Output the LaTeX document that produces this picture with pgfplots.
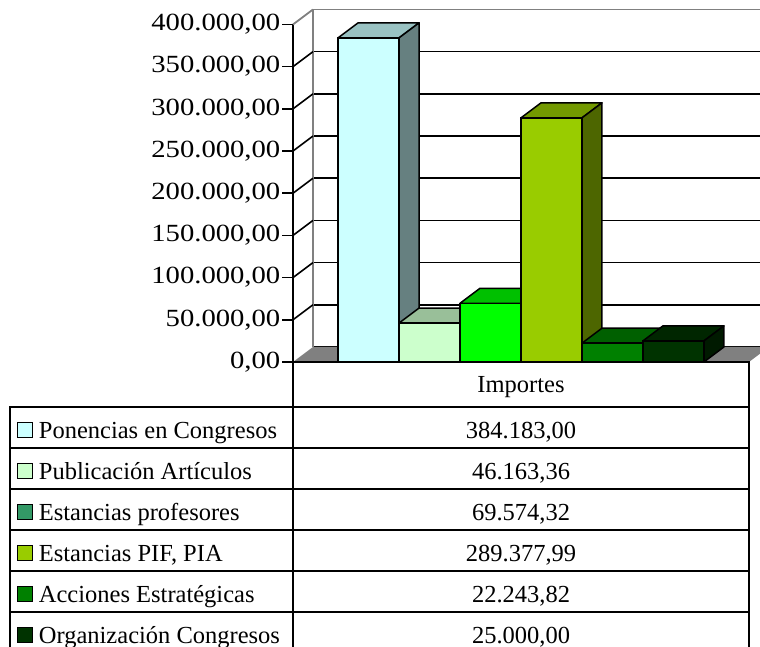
\documentclass[border=0pt]{standalone}
\usepackage{fontspec}
\setmainfont{Liberation Serif}
\usepackage{graphicx}
\usepackage{pgfplots}
\usepackage{pgfplotstable}
\pgfplotsset{compat=1.18}

\definecolor{ponfront}{HTML}{CCFFFF}\definecolor{pontop}{HTML}{99C2C2}\definecolor{ponside}{HTML}{668080}
\definecolor{pubfront}{HTML}{CCFFCC}\definecolor{pubtop}{HTML}{99BF99}\definecolor{pubside}{HTML}{668066}
\definecolor{estfront}{HTML}{00FF00}\definecolor{esttop}{HTML}{00C000}\definecolor{estside}{HTML}{008000}
\definecolor{estkey}{HTML}{339966}
\definecolor{piffront}{HTML}{99CC00}\definecolor{piftop}{HTML}{739900}\definecolor{pifside}{HTML}{4D6600}
\definecolor{accfront}{HTML}{008000}\definecolor{acctop}{HTML}{006000}\definecolor{accside}{HTML}{004000}
\definecolor{orgfront}{HTML}{003300}\definecolor{orgtop}{HTML}{002600}\definecolor{orgside}{HTML}{001A00}
\definecolor{floorgray}{HTML}{808080}

% importes por concepto
\pgfplotstableread{
idx value
0 384183.00
1 46163.36
2 69574.32
3 289377.99
4 22243.82
5 25000.00
}\importes

\newcommand\tablefont{\fontsize{24.5}{29}\selectfont}
\newcommand\tickfont{\fontsize{24.7}{29}\selectfont}

% one 3d bar: row, front, top, side colour
\newcommand\cubebar[4]{%
  \addplot[only marks, scatter, mark=*, mark size=0pt, mark options={draw=none,fill=none},
    point meta=y,
    scatter/@pre marker code/.code={%
      \pgfkeys{/pgf/fpu=true,/pgf/fpu/output format=fixed}%
      \pgfmathsetmacro\negheight{-\pgfplotspointmeta}%
      \pgfkeys{/pgf/fpu=false}%
      \filldraw[fill=#3, draw=black, line width=1.5pt, line join=round]
        (-30.5pt,0pt) -- (30.5pt,0pt) -- (50.5pt,15pt) -- (-10.5pt,15pt) -- cycle;
      \filldraw[fill=#4, draw=black, line width=1.5pt, line join=round]
        (30.5pt,0pt) -- (50.5pt,15pt)
        -- ([xshift=50.5pt,yshift=15pt]axis direction cs:0,\negheight)
        -- ([xshift=30.5pt]axis direction cs:0,\negheight) -- cycle;
    },
    scatter/@post marker code/.code={},
    skip coords between index={0}{#1},
    skip coords between index={\the\numexpr#1+1\relax}{6}]
    table[x=idx, y=value] {\importes};
  \addplot[ybar, bar width=61pt, bar shift=0pt, fill=#2, draw=black, line width=1.5pt,
    skip coords between index={0}{#1},
    skip coords between index={\the\numexpr#1+1\relax}{6}]
    table[x=idx, y=value] {\importes};
}

\begin{document}
\begin{tikzpicture}
\useasboundingbox (0pt,0pt) rectangle (760pt,647pt);
\clip (0pt,0pt) rectangle (760pt,647pt);
\begin{axis}[
    at={(293pt,285pt)}, anchor=south west,
    scale only axis, width=456pt, height=337.5pt,
    xmin=-1.24, xmax=6.24, ymin=0, ymax=400000,
    clip=false, clip marker paths=true,
    axis x line=none, axis y line*=left,
    y axis line style={black, line width=1.6pt},
    xtick=\empty,
    ytick={0,50000,100000,150000,200000,250000,300000,350000,400000},
    scaled y ticks=false,
    tick align=outside, major tick length=11pt,
    ytick style={black, line width=1.6pt},
    yticklabel style={font=\tickfont, inner sep=1.5pt,
      /pgf/number format/.cd, fixed, fixed zerofill, precision=2,
      use comma, 1000 sep={.}, assume math mode=true},
    yticklabel={\scalebox{1.16}[1]{\pgfmathprintnumber{\tick}}},
    ymajorgrids,
    grid style={black, line width=1.6pt, xshift=20pt, yshift=15pt},
  ]
  % floor and walls
  \fill[floorgray] (rel axis cs:0,0) -- (rel axis cs:1,0)
    -- ([xshift=20pt,yshift=15pt]rel axis cs:1,0)
    -- ([xshift=20pt,yshift=15pt]rel axis cs:0,0) -- cycle;
  \draw[floorgray, line width=1.8pt] ([xshift=20pt,yshift=15pt]rel axis cs:0,0)
    -- ([xshift=20pt,yshift=15pt]rel axis cs:0,1)
    -- ([xshift=20pt,yshift=15pt]rel axis cs:1,1);
  \draw[floorgray, line width=1.8pt] (rel axis cs:0,1) -- ++(20pt,15pt);
  \pgfplotsinvokeforeach{50000,100000,150000,200000,250000,300000,350000}{
    \draw[black, line width=1.6pt] (axis cs:-1.24,#1) -- ++(20pt,15pt);
  }

  \cubebar{0}{ponfront}{pontop}{ponside}
  \cubebar{1}{pubfront}{pubtop}{pubside}
  \cubebar{2}{estfront}{esttop}{estside}
  \cubebar{3}{piffront}{piftop}{pifside}
  \cubebar{4}{accfront}{acctop}{accside}
  \cubebar{5}{orgfront}{orgtop}{orgside}
\end{axis}

% data table
\begin{scope}[line width=1.8pt]
  \draw (293pt,285pt) rectangle (749pt,240.3pt);
  \node[anchor=base, font=\tablefont, inner sep=0pt] at (521pt,254.3pt) {Importes};
  \foreach \i/\lab/\key in {0/{Ponencias en Congresos}/ponfront,
                            1/{Publicación Artículos}/pubfront,
                            2/{Estancias profesores}/estkey,
                            3/{Estancias PIF, PIA}/piffront,
                            4/{Acciones Estratégicas}/accfront,
                            5/{Organización Congresos}/orgfront} {
    \pgfmathsetmacro\yt{240.3-41*\i}
    \pgfmathsetmacro\yb{\yt-41}
    \pgfmathsetmacro\ybase{\yt-31.8}
    \draw (10pt,\yt pt) rectangle (293pt,\yb pt);
    \draw (293pt,\yt pt) rectangle (749pt,\yb pt);
    \filldraw[fill=\key, draw=black, line width=1.4pt]
      (17.5pt,\ybase pt + 1pt) rectangle (32.5pt,\ybase pt + 16pt);
    \node[anchor=base west, font=\tablefont, inner sep=0pt] at (38pt,\ybase pt) {\lab};
    \pgfplotstablegetelem{\i}{value}\of\importes
    \node[anchor=base, font=\tablefont, inner sep=0pt] at (521pt,\ybase pt)
      {\pgfmathprintnumber[fixed, fixed zerofill, precision=2, use comma,
        1000 sep={.}, assume math mode=true]{\pgfplotsretval}};
  }
\end{scope}
\end{tikzpicture}
\end{document}
